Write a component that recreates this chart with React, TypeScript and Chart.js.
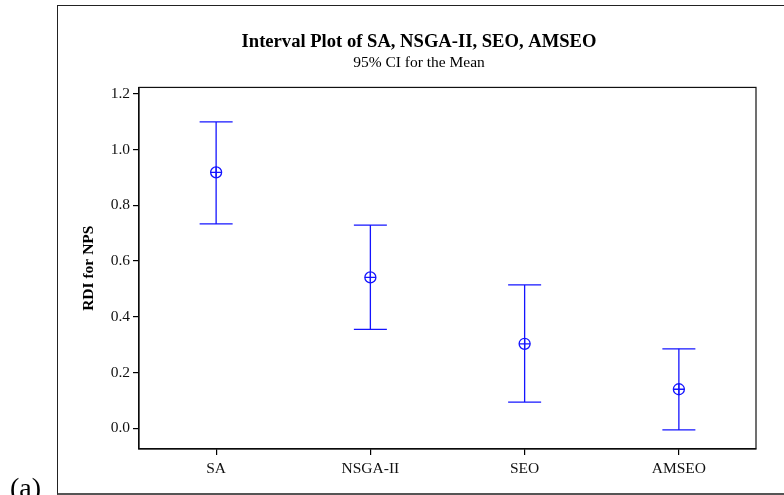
import React, { useEffect, useRef } from 'react';
import { Chart, registerables } from 'chart.js';

Chart.register(...registerables);

const categories = ['SA', 'NSGA-II', 'SEO', 'AMSEO'];
const means = [0.918, 0.541, 0.303, 0.14];
const lowerCI = [0.733, 0.355, 0.094, -0.006];
const upperCI = [1.099, 0.729, 0.514, 0.285];
const yTickValues = [0, 0.2, 0.4, 0.6, 0.8, 1.0, 1.2];
const titleText = 'Interval Plot of SA, NSGA-II, SEO, AMSEO';
const subtitleText = '95% CI for the Mean';
const yAxisTitle = 'RDI for NPS';
const panelLabel = '(a)';

const BLUE = '#1414ff';
const SERIF = "'Liberation Serif', 'Times New Roman', serif";

export default function App() {
  const ref = useRef<HTMLCanvasElement>(null);

  useEffect(() => {
    if (!ref.current) return;
    const intervalSets = categories.map((c, i) => ({
      label: c + ' CI',
      data: [
        { x: i + 1, y: lowerCI[i] },
        { x: i + 1, y: upperCI[i] },
      ],
      showLine: true,
      borderColor: BLUE,
      borderWidth: 1.3,
      pointStyle: 'line',
      pointRadius: 16.5,
      pointHoverRadius: 16.5,
      pointBorderColor: BLUE,
      pointBorderWidth: 1.3,
    }));
    const meanCircle = {
      label: 'Mean',
      data: means.map((m, i) => ({ x: i + 1, y: m })),
      showLine: false,
      pointStyle: 'circle',
      pointRadius: 5.5,
      pointHoverRadius: 5.5,
      pointBorderColor: BLUE,
      pointBackgroundColor: 'rgba(0,0,0,0)',
      pointBorderWidth: 1.3,
    };
    const meanCross = {
      label: 'Mean cross',
      data: means.map((m, i) => ({ x: i + 1, y: m })),
      showLine: false,
      pointStyle: 'cross',
      pointRadius: 5.5,
      pointHoverRadius: 5.5,
      pointBorderColor: BLUE,
      pointBorderWidth: 1.3,
    };

    const framePlugin = {
      id: 'frame',
      afterDraw(chart: any) {
        const { ctx, chartArea: a } = chart;
        ctx.save();
        ctx.strokeStyle = '#111';
        ctx.lineWidth = 1.2;
        ctx.strokeRect(a.left, a.top, a.right - a.left, a.bottom - a.top);
        ctx.restore();
      },
    };

    const chart = new Chart(ref.current, {
      type: 'scatter',
      data: { datasets: [...intervalSets, meanCircle, meanCross] as any },
      options: {
        animation: false,
        responsive: false,
        events: [],
        layout: { padding: { left: 57, right: 3, top: 0, bottom: 0 } },
        plugins: {
          legend: { display: false },
          tooltip: { enabled: false },
          title: {
            display: true,
            text: titleText,
            color: '#000',
            font: { family: SERIF, size: 18.6, weight: 'bold' },
            padding: { top: 30.8, bottom: 1 },
          },
          subtitle: {
            display: true,
            text: subtitleText,
            color: '#000',
            font: { family: SERIF, size: 15.5, weight: 'normal' },
            padding: { top: 0, bottom: 14.7 },
          },
        },
        scales: {
          x: {
            type: 'linear',
            min: 0.5,
            max: 4.5,
            afterBuildTicks: (s: any) => {
              s.ticks = categories.map((_, i) => ({ value: i + 1 }));
            },
            afterFit: (s: any) => {
              s.height = 46;
            },
            ticks: {
              callback: (v: any) => categories[Math.round(Number(v)) - 1] ?? '',
              color: '#111',
              font: { family: SERIF, size: 15.5 },
              padding: 5,
              autoSkip: false,
              maxRotation: 0,
            },
            grid: { display: true, drawOnChartArea: false, drawTicks: true, tickLength: 6, color: '#000', lineWidth: 1.2 },
            border: { display: true, color: '#000', width: 1.2 },
          },
          y: {
            type: 'linear',
            position: 'left',
            min: -0.0744,
            max: 1.2226,
            afterBuildTicks: (s: any) => {
              s.ticks = yTickValues.map((v) => ({ value: v }));
            },
            afterFit: (s: any) => {
              s.width = 82;
            },
            ticks: {
              callback: (v: any) => Number(v).toFixed(1),
              color: '#111',
              font: { family: SERIF, size: 15.5 },
              padding: 3,
            },
            grid: { display: true, drawOnChartArea: false, drawTicks: true, tickLength: 6, color: '#000', lineWidth: 1.2 },
            border: { display: true, color: '#000', width: 1.2 },
            title: {
              display: true,
              text: yAxisTitle,
              color: '#000',
              font: { family: SERIF, size: 15.5, weight: 'bold' },
              padding: { top: 22.5, bottom: 0 },
            },
          },
          y2: {
            type: 'linear',
            position: 'right',
            display: true,
            ticks: { display: false },
            grid: { display: false },
            border: { display: false },
            afterFit: (s: any) => {
              s.width = 25;
            },
          },
        },
      } as any,
      plugins: [framePlugin],
    });
    return () => chart.destroy();
  }, []);

  return (
    <div
      style={{
        position: 'fixed',
        left: 0,
        top: 0,
        width: 784,
        height: 495,
        overflow: 'hidden',
        background: '#fff',
      }}
    >
      <canvas ref={ref} width={784} height={495} style={{ position: 'absolute', left: 0, top: 0, display: 'block' }} />
      <div
        style={{
          position: 'absolute',
          left: 57,
          top: 5,
          width: 727,
          height: 490,
          boxSizing: 'border-box',
          borderLeft: '1.5px solid #222',
          borderTop: '1.5px solid #222',
          borderBottom: '2px solid #555',
          pointerEvents: 'none',
        }}
      />
      <span
        style={{
          position: 'absolute',
          left: 10,
          top: 474,
          fontFamily: SERIF,
          fontSize: 28,
          lineHeight: 1,
          color: '#000',
          whiteSpace: 'nowrap',
        }}
      >
        {panelLabel}
      </span>
    </div>
  );
}
